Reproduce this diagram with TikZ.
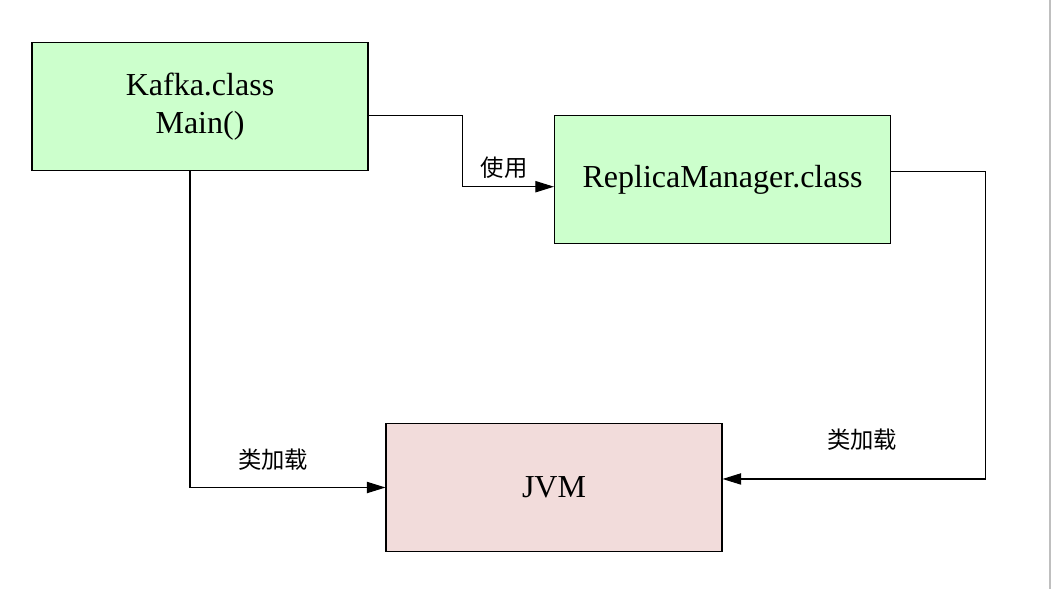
\documentclass[tikz,border=0pt]{standalone}
\usepackage{fontspec}
\setmainfont{Liberation Serif}
\newfontfamily\cjk{Noto Sans CJK SC}
\usetikzlibrary{arrows.meta}
\definecolor{classgreen}{RGB}{204,255,204}
\definecolor{jvmpink}{RGB}{242,220,219}
\tikzset{
  box/.style={draw, line width=0.8pt, minimum width=336*0.75pt, minimum height=128*0.75pt,
    align=center, font=\fontsize{24pt}{29pt}\selectfont, inner sep=0pt},
  arr/.style={-{Triangle[length=14pt,width=8.5pt]}, line width=0.8pt},
  lbl/.style={font=\cjk\fontsize{17.5pt}{20pt}\selectfont, inner sep=0pt}
}

\begin{document}
\begin{tikzpicture}[x=0.75pt, y=-0.75pt]

  \useasboundingbox (0,0) rectangle (1063,589);
  \draw[gray!50, line width=0.8pt] (1050,0) -- (1050,589);

  % Define nodes
  \node[box, fill=classgreen] (kafka) at (200,106.5) {Kafka.class\\Main()};
  \node[box, fill=classgreen] (replica) at (722.5,179.5) {ReplicaManager.class};
  \node[box, fill=jvmpink] (jvm) at (554,487.5) {JVM};

  % Connect the nodes
  \draw[arr] ([yshift=-7pt]kafka.east) -- ++(94,0) |- ([yshift=-5.4pt]replica.west);
  \draw[arr] ([xshift=-7.5pt]kafka.south) |- (jvm.west);
  \draw[arr] ([yshift=5.9pt]replica.east) -- ++(94,0) |- ([yshift=6.4pt]jvm.east);

  % Labels
  \node[lbl] (use) at (504,168) {使用};
  \node[lbl] (loadl) at (273,460) {类加载};
  \node[lbl] (loadr) at (862,440) {类加载};

\end{tikzpicture}
\end{document}
